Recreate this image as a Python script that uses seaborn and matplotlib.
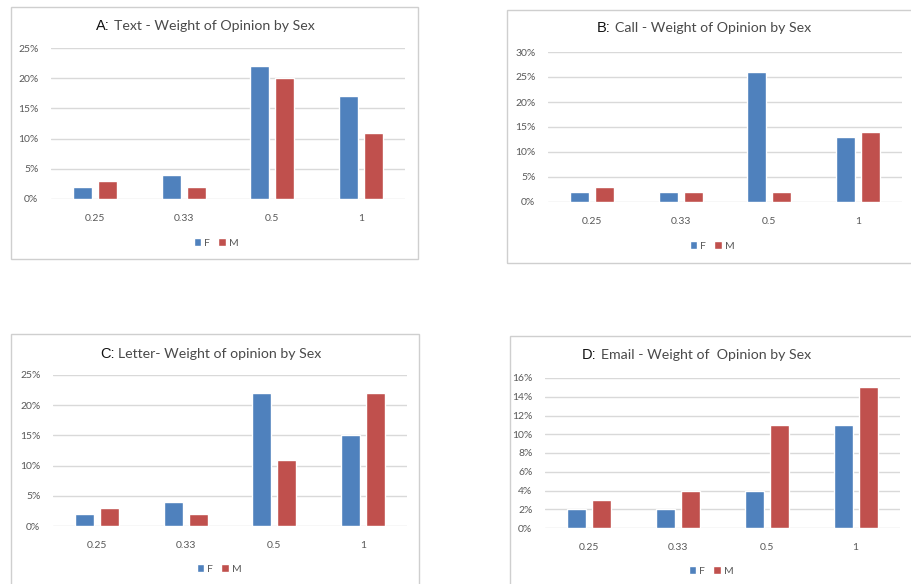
import matplotlib
matplotlib.use("Agg")
import matplotlib.pyplot as plt
import seaborn as sns
import pandas as pd
from matplotlib.patches import Patch, Rectangle
from matplotlib.ticker import FuncFormatter, MultipleLocator

# Weight-of-opinion categories and sexes
weights = ["0.25", "0.33", "0.5", "1"]
sexes = ["F", "M"]

# Share of respondents (%) per weight, by sex, for each contact channel
text_f = [2, 4, 22, 17]
text_m = [3, 2, 20, 11]
call_f = [2, 2, 26, 13]
call_m = [3, 2, 2, 14]
letter_f = [2, 4, 22, 15]
letter_m = [3, 2, 11, 22]
email_f = [2, 2, 4, 11]
email_m = [3, 4, 11, 15]

BLUE = "#4F81BD"
RED = "#C0504D"
GRID = "#D9D9D9"
LABEL = "#595959"
TITLE = "#4A4A4A"

W, H = 912, 584
sns.set_theme(style="white")
plt.rcParams["font.family"] = ["Lato", "DejaVu Sans"]

fig = plt.figure(figsize=(W / 100, H / 100), dpi=100)


def frac_rect(x0, y0, x1, y1):
    return [x0 / W, 1 - y1 / H, (x1 - x0) / W, (y1 - y0) / H]


panels = [
    dict(prefix="A:", name="Text - Weight of Opinion by Sex", f=text_f, m=text_m,
         ymax=25, step=5, plot=(51, 48, 405, 199), box=(11, 7, 418, 259),
         title=(96, 26), legend=(216, 243)),
    dict(prefix="B:", name="Call - Weight of Opinion by Sex", f=call_f, m=call_m,
         ymax=30, step=5, plot=(548, 52, 902, 202), box=(507, 10, 915, 263),
         title=(597, 28), legend=(712, 246)),
    dict(prefix="C:", name="Letter- Weight of opinion by Sex", f=letter_f, m=letter_m,
         ymax=25, step=5, plot=(53, 375, 407, 526), box=(11, 334, 419, 600),
         title=(100, 354), legend=(219, 569)),
    dict(prefix="D:", name="Email - Weight of  Opinion by Sex", f=email_f, m=email_m,
         ymax=16, step=2, plot=(545, 378, 900, 528), box=(510, 336, 915, 600),
         title=(582, 355), legend=(711, 571)),
]

prefix_texts = []
for p in panels:
    # panel frame
    bx0, by0, bx1, by1 = p["box"]
    fig.patches.append(Rectangle((bx0 / W, 1 - by1 / H), (bx1 - bx0) / W, (by1 - by0) / H,
                                 transform=fig.transFigure, fill=False,
                                 edgecolor="#CFCFCF", linewidth=1.0))

    df = pd.DataFrame({
        "weight": weights * 2,
        "sex": [sexes[0]] * len(weights) + [sexes[1]] * len(weights),
        "pct": p["f"] + p["m"],
    })
    ax = fig.add_axes(frac_rect(*p["plot"]))
    sns.barplot(data=df, x="weight", y="pct", hue="sex", order=weights,
                hue_order=sexes, palette=[BLUE, RED], saturation=1,
                width=0.565, gap=0.24, legend=False, ax=ax, zorder=3)
    ax.set_ylim(0, p["ymax"])
    ax.set_xlim(-0.5, len(weights) - 0.5)
    ax.yaxis.set_major_locator(MultipleLocator(p["step"]))
    ax.yaxis.set_major_formatter(FuncFormatter(lambda v, _: f"{v:.0f}%"))
    ax.grid(axis="y", color=GRID, linewidth=1.0, zorder=0)
    ax.set_axisbelow(True)
    for s in ax.spines.values():
        s.set_visible(False)
    ax.set_xlabel("")
    ax.set_ylabel("")
    ax.tick_params(axis="both", length=0, labelsize=7.5, labelcolor=LABEL)
    ax.tick_params(axis="y", pad=9)
    ax.tick_params(axis="x", pad=11)

    tx, ty = p["title"]
    t = fig.text(tx / W, 1 - ty / H, p["prefix"], fontsize=10.5, color="#111111",
                 family=["Liberation Sans", "DejaVu Sans"], va="center", ha="left")
    prefix_texts.append((t, p))

    lx, ly = p["legend"]
    handles = [Patch(facecolor=BLUE, label="F"), Patch(facecolor=RED, label="M")]
    fig.legend(handles=handles, loc="center", bbox_to_anchor=(lx / W, 1 - ly / H),
               ncol=2, frameon=False, fontsize=7.5, labelcolor=LABEL,
               handlelength=0.7, handleheight=0.7, handletextpad=0.3,
               columnspacing=0.8)

# place the chart names right after their letter prefixes
fig.canvas.draw()
renderer = fig.canvas.get_renderer()
for t, p in prefix_texts:
    bb = t.get_window_extent(renderer)
    x_px = bb.x1 + 4
    tx, ty = p["title"]
    fig.text(x_px / W, 1 - ty / H, p["name"], fontsize=10.2, color=TITLE,
             va="center", ha="left")

fig.savefig("out.png", dpi=100, facecolor="white")
